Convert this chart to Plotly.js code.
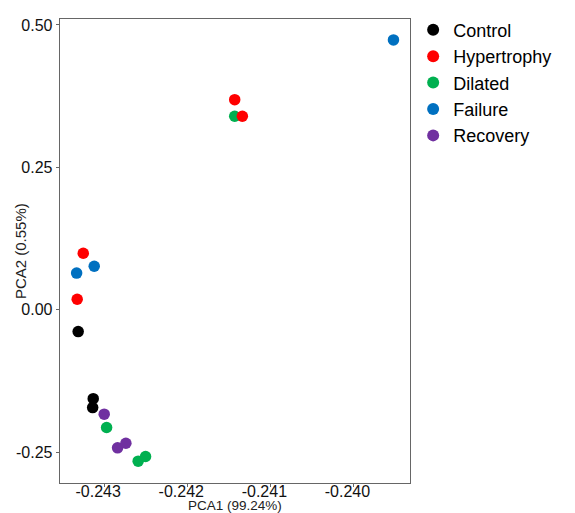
<!DOCTYPE html>
<html>
<head>
<meta charset="utf-8">
<script src="https://cdn.plot.ly/plotly-3.0.1.min.js"></script>
<style>html,body{margin:0;padding:0;background:#fff;}#chart{width:575px;height:513px;}</style>
</head>
<body>
<div id="chart"></div>
<script>
const groups = ["Control", "Hypertrophy", "Dilated", "Failure", "Recovery"];
const colors = ["#000000", "#FF0000", "#00B050", "#0070C0", "#7030A0"];

const controlX = [-0.243313, -0.243132, -0.243139];
const controlY = [-0.0383, -0.1560, -0.1717];
const hypertrophyX = [-0.241429, -0.241337, -0.243252, -0.243325];
const hypertrophyY = [0.3688, 0.3398, 0.0992, 0.0186];
const dilatedX = [-0.241429, -0.242971, -0.242591, -0.242502];
const dilatedY = [0.3398, -0.2065, -0.2657, -0.2575];
const failureX = [-0.243332, -0.243120, -0.239518];
const failureY = [0.0644, 0.0765, 0.4737];
const recoveryX = [-0.243000, -0.242839, -0.242739];
const recoveryY = [-0.1832, -0.2423, -0.2343];

const xTickVals = [-0.243, -0.242, -0.241, -0.240];
const xTickText = ["-0.243", "-0.242", "-0.241", "-0.240"];
const yTickVals = [-0.25, 0.0, 0.25, 0.5];
const yTickText = ["-0.25", "0.00", "0.25", "0.50"];
const xTitle = "PCA1 (99.24%)";
const yTitle = "PCA2 (0.55%)";

const xs = [controlX, hypertrophyX, dilatedX, failureX, recoveryX];
const ys = [controlY, hypertrophyY, dilatedY, failureY, recoveryY];

// draw Dilated before Hypertrophy so red overlaps green as in the reference
const order = [0, 2, 1, 3, 4];
const traces = order.map(i => ({
  type: "scatter",
  mode: "markers",
  name: groups[i],
  x: xs[i],
  y: ys[i],
  legendrank: i + 1,
  marker: {color: colors[i], size: 11.5, line: {width: 0}}
}));

const font = {family: "Liberation Sans, Arial, sans-serif", color: "#000"};
const layout = {
  width: 575,
  height: 513,
  paper_bgcolor: "#fff",
  plot_bgcolor: "#fff",
  margin: {l: 60, r: 165, t: 15, b: 30},
  font: font,
  showlegend: true,
  legend: {
    x: 1.009, xanchor: "left", y: 1.016, yanchor: "top",
    font: {family: font.family, size: 18, color: "#000"},
    itemsizing: "constant",
    tracegroupgap: 0,
    borderwidth: 0,
    bgcolor: "rgba(0,0,0,0)"
  },
  xaxis: {
    range: [-0.243532, -0.239319],
    tickvals: xTickVals, ticktext: xTickText,
    showgrid: false, zeroline: false,
    showline: true, mirror: true, linecolor: "#666666", linewidth: 1.3,
    ticks: "outside", ticklen: 3, tickcolor: "#666666", tickwidth: 1,
    tickfont: {family: font.family, size: 16, color: "#111"},
    ticklabelshift: -6,
    ticklabelstandoff: -10,
    automargin: false
  },
  yaxis: {
    range: [-0.304, 0.5104],
    tickvals: yTickVals, ticktext: yTickText,
    showgrid: false, zeroline: false,
    showline: true, mirror: true, linecolor: "#666666", linewidth: 1.3,
    ticks: "outside", ticklen: 3, tickcolor: "#666666", tickwidth: 1,
    tickfont: {family: font.family, size: 16, color: "#111"},
    automargin: false
  },
  annotations: [{
    text: xTitle,
    xref: "paper", yref: "paper", x: 0.5, y: -0.0475,
    xanchor: "center", yanchor: "middle", showarrow: false,
    font: {family: font.family, size: 13.5, color: "#222"}
  }, {
    text: yTitle, textangle: -90,
    xref: "paper", yref: "paper", x: -0.114, y: 0.5,
    xanchor: "center", yanchor: "middle", showarrow: false,
    font: {family: font.family, size: 15, color: "#222"}
  }]
};

Plotly.newPlot("chart", traces, layout, {displayModeBar: false, staticPlot: true});
</script>
</body>
</html>
